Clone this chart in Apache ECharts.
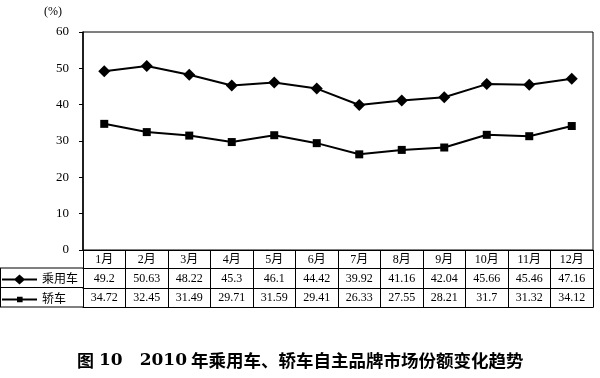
<!DOCTYPE html>
<html>
<head>
<meta charset="utf-8">
<script src="https://cdn.jsdelivr.net/npm/echarts@6/dist/echarts.min.js"></script>
<style>
  html, body { margin: 0; padding: 0; background: #fff; }
  #main { width: 600px; height: 378px; }
</style>
</head>
<body>
<div id="main"></div>
<script>
var dom = document.getElementById('main');
var myChart = echarts.init(dom);

var months = ['1月', '2月', '3月', '4月', '5月', '6月', '7月', '8月', '9月', '10月', '11月', '12月'];
var passenger = [49.2, 50.63, 48.22, 45.3, 46.1, 44.42, 39.92, 41.16, 42.04, 45.66, 45.46, 47.16];
var sedan = [34.72, 32.45, 31.49, 29.71, 31.59, 29.41, 26.33, 27.55, 28.21, 31.7, 31.32, 34.12];
var seriesNames = ['乘用车', '轿车'];

var txtFont = '"Liberation Serif", "Noto Sans CJK SC", serif';
var black = '#000';

// legend icons: a line with the marker in the middle
var iconDiamond = 'path://M0,4H13L17.5,0L22,4H35V6H22L17.5,10L13,6H0Z';
var iconSquare = 'path://M0,4H15V2.2H20.6V4H35V6H20.6V7.8H15V6H0Z';

// one row of the data table under the plot
function tableAxis(offset, rowHeight, formatter) {
    return {
        type: 'category',
        position: 'bottom',
        offset: offset,
        data: months,
        axisLine: { show: true, lineStyle: { color: black, width: 1 } },
        axisTick: { show: true, length: rowHeight, lineStyle: { color: black, width: 1 } },
        axisLabel: {
            show: !!formatter,
            interval: 0,
            margin: 4,
            color: black,
            fontSize: 12,
            fontFamily: txtFont,
            formatter: formatter
        },
        splitLine: { show: false }
    };
}

var option = {
    animation: false,
    title: {
        text: '{cn|图}{n1|10}{n2|2010}{cn2|年乘用车、轿车自主品牌市场份额变化趋势}',
        left: 77,
        top: 352,
        padding: 0,
        textStyle: {
            rich: {
                cn: { fontSize: 17, fontWeight: 'bold', color: black, fontFamily: '"Noto Sans CJK SC"' },
                cn2: { fontSize: 17.5, fontWeight: 'bold', color: black, fontFamily: '"Noto Sans CJK SC"', padding: [0, 0, 0, 4] },
                n1: { fontSize: 17, fontWeight: 'bold', color: black, fontFamily: '"DejaVu Serif"', padding: [0, 0, 0, 5] },
                n2: { fontSize: 17, fontWeight: 'bold', color: black, fontFamily: '"DejaVu Serif"', padding: [0, 0, 0, 17] }
            }
        }
    },
    legend: {
        orient: 'vertical',
        left: 2,
        top: 273,
        itemWidth: 35,
        itemHeight: 10,
        itemGap: 7,
        padding: 0,
        data: [
            { name: seriesNames[0], icon: iconDiamond },
            { name: seriesNames[1], icon: iconSquare }
        ],
        textStyle: { fontSize: 12, color: black, fontFamily: txtFont, lineHeight: 13 }
    },
    grid: {
        left: 83,
        right: 7,
        top: 32,
        bottom: 128,
        show: true,
        borderColor: black,
        borderWidth: 1
    },
    xAxis: [
        tableAxis(0, 18.5, function (v) { return v; }),
        tableAxis(18.5, 19.5, function (v, i) { return String(passenger[i]); }),
        tableAxis(38, 19.5, function (v, i) { return String(sedan[i]); }),
        tableAxis(57.5, 0, null)
    ],
    yAxis: {
        type: 'value',
        min: 0,
        max: 60,
        interval: 10,
        name: '(%)',
        nameLocation: 'end',
        nameGap: 14,
        nameTextStyle: {
            align: 'right',
            padding: [0, 21, 0, 0],
            fontSize: 12,
            color: black,
            fontFamily: txtFont
        },
        axisLine: { show: true, lineStyle: { color: black, width: 1.5 } },
        axisTick: { show: true, length: 4, lineStyle: { color: black } },
        axisLabel: { margin: 14, fontSize: 13, color: black, fontFamily: txtFont },
        splitLine: { show: false }
    },
    series: [
        {
            name: seriesNames[0],
            type: 'line',
            data: passenger,
            symbol: 'diamond',
            symbolSize: 12,
            lineStyle: { color: black, width: 2 },
            itemStyle: { color: black }
        },
        {
            name: seriesNames[1],
            type: 'line',
            data: sedan,
            symbol: 'rect',
            symbolSize: 8,
            lineStyle: { color: black, width: 2 },
            itemStyle: { color: black }
        }
    ],
    // left column of the table (legend cells)
    graphic: [
        { type: 'line', shape: { x1: 0, y1: 268, x2: 83, y2: 268 }, style: { stroke: black, lineWidth: 1 } },
        { type: 'line', shape: { x1: 0, y1: 287.5, x2: 83, y2: 287.5 }, style: { stroke: black, lineWidth: 1 } },
        { type: 'line', shape: { x1: 0, y1: 307, x2: 83, y2: 307 }, style: { stroke: black, lineWidth: 1 } },
        { type: 'line', shape: { x1: 0.5, y1: 268, x2: 0.5, y2: 307 }, style: { stroke: black, lineWidth: 1 } }
    ]
};

myChart.setOption(option);
</script>
</body>
</html>
